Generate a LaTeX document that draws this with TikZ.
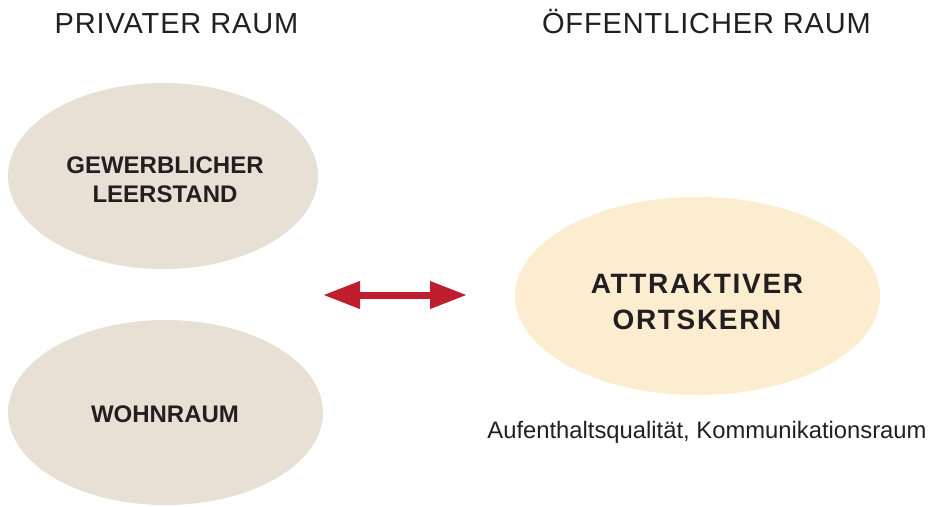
\documentclass[tikz,border=0pt]{standalone}
\usepackage{fontspec}
\setmainfont{Liberation Sans}
\newfontfamily\spacedbold[LetterSpace=6,BoldFont={Liberation Sans Bold}]{Liberation Sans}
\newfontfamily\titlefont[LetterSpace=3]{Liberation Sans}
\usetikzlibrary{shapes.geometric,arrows.meta}
\definecolor{beige}{HTML}{E8E0D5}
\definecolor{cream}{HTML}{FDEDD0}
\definecolor{arrowred}{HTML}{BE1E2D}
\definecolor{ink}{HTML}{231F20}
\begin{document}
\begin{tikzpicture}[x=1pt,y=-1pt,
  blob/.style={ellipse, inner sep=0pt, draw=none},
  title/.style={font=\titlefont\fontsize{29}{34}\selectfont, text=ink, inner sep=0pt, anchor=base},
  boxtext/.style={font=\bfseries\fontsize{24}{29}\selectfont, text=ink, align=center, inner sep=0pt, anchor=base},
  bigtext/.style={font=\spacedbold\bfseries\fontsize{28}{36}\selectfont, text=ink, align=center, inner sep=0pt, anchor=base},
  note/.style={font=\fontsize{23.8}{28}\selectfont, text=ink, inner sep=0pt, anchor=base}
]
\useasboundingbox (0,0) rectangle (931,506);
\node[title] (tpriv) at (176.5,33) {PRIVATER RAUM};
\node[title] (tpub) at (706.5,33) {ÖFFENTLICHER RAUM};
\node[blob, fill=beige, minimum width=310pt, minimum height=186pt] (gew) at (163,176) {};
\node[blob, fill=beige, minimum width=315pt, minimum height=185pt] (wohn) at (165.5,412.5) {};
\node[blob, fill=cream, minimum width=365pt, minimum height=198pt] (ort) at (697.5,296) {};
\node[boxtext] (gewt) at (165,202) {GEWERBLICHER\\LEERSTAND};
\node[boxtext] (wohnt) at (165,422) {WOHNRAUM};
\node[bigtext] (ortt) at (697,329) {ATTRAKTIVER\\ORTSKERN};
\node[note] (sub) at (707,438) {Aufenthaltsqualität, Kommunikationsraum};
\coordinate (al) at (323,295);
\coordinate (ar) at (467,295);
\draw[arrowred, line width=7pt, {Triangle[length=37pt,width=26pt]}-{Triangle[length=37pt,width=26pt]}] (al) -- (ar);
\end{tikzpicture}
\end{document}
